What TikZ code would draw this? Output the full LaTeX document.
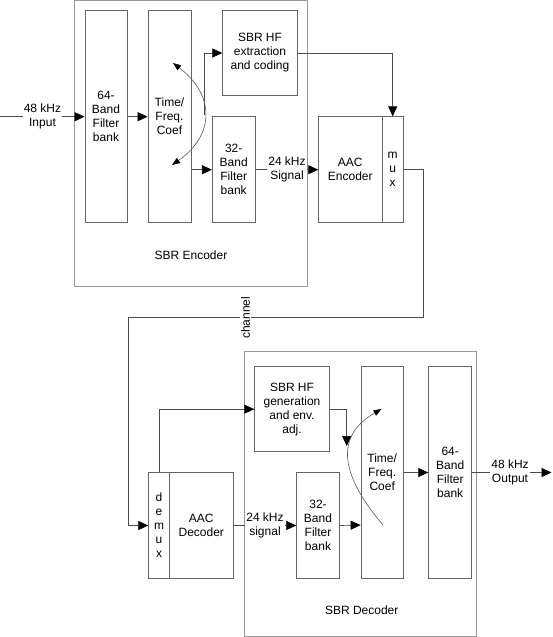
\documentclass[tikz,border=0pt]{standalone}
\usepackage{fontspec}
\setmainfont{Liberation Sans}
\usetikzlibrary{arrows.meta}

\begin{document}
\begin{tikzpicture}[x=1pt,y=-1pt,
    every node/.style={font=\fontsize{12}{14}\selectfont, inner sep=0pt},
    outerbox/.style={draw=black!40, line width=0.9pt},
    blk/.style={draw=black!60, line width=0.8pt, align=center},
    line/.style={draw=black!70, line width=0.7pt},
    arr/.style={line, -{Triangle[length=10pt,width=9pt,color=black]}},
    curvline/.style={draw=black!65, line width=0.6pt},
    lbl/.style={fill=white, align=center, inner sep=1pt}]
    \useasboundingbox (0,0) rectangle (552,637);
    % encoder
    \node[outerbox, minimum width=233.7, minimum height=285.5] (enc) at (190.85,143.25) {};
    \node (enclbl) at (191,255) {SBR Encoder};
    \node[blk, minimum width=42, minimum height=212] (fbe) at (106,116.7) {64-\\Band\\Filter\\bank};
    \node[blk, minimum width=43, minimum height=212] (tfe) at (169.5,116.7) {Time/\\Freq.\\Coef};
    \node[blk, minimum width=74.6, minimum height=84.6] (hfe) at (260,53) {SBR HF\\extraction\\and coding};
    \node[blk, minimum width=42.7, minimum height=106] (fbse) at (233.7,169.7) {32-\\Band\\Filter\\bank};
    \node[blk, minimum width=63.3, minimum height=106] (aace) at (350.3,169.7) {AAC\\Encoder};
    \node[blk, minimum width=21.3, minimum height=106] (mux) at (392.7,169.7) {m\\u\\x};
    % decoder
    \node[outerbox, minimum width=232.7, minimum height=285.5] (dec) at (360.35,493.75) {};
    \node (declbl) at (361.7,610) {SBR Decoder};
    \node[blk, minimum width=74.6, minimum height=85] (hfg) at (292,409.2) {SBR HF\\generation\\and env.\\adj.};
    \node[blk, minimum width=42.3, minimum height=211.6] (tfd) at (382.2,472.5) {Time/\\Freq.\\Coef};
    \node[blk, minimum width=43, minimum height=211.6] (fbd) at (450.2,472.5) {64-\\Band\\Filter\\bank};
    \node[blk, minimum width=20.6, minimum height=105.6] (demux) at (159,525.5) {d\\e\\m\\u\\x};
    \node[blk, minimum width=64, minimum height=105.6] (aacd) at (201.3,525.5) {AAC\\Decoder};
    \node[blk, minimum width=42.6, minimum height=105.6] (fbsd) at (318,525.5) {32-\\Band\\Filter\\bank};
    % free ends
    \coordinate (in) at (0,116.7);
    \coordinate (out) at (551.5,472.5);
    \coordinate (tfa) at (173,63);
    \coordinate (tfb) at (172,165);
    \coordinate (tfbr) at (204.4,114.75);
    \coordinate (tda) at (383,525);
    \coordinate (tdb) at (381.5,409);
    \coordinate (hfgin) at (346.7,446);
    \coordinate (ch1) at (423.3,317.7);
    \coordinate (ch2) at (128.3,317.7);
    % encoder connectors
    \draw[arr] (in) -- (fbe.west);
    \draw[arr] (fbe.east) -- (tfe.west);
    \draw[arr] (tfe.east |- fbse.west) -- (fbse.west);
    \draw[arr] (tfbr) |- (hfe.west);
    \draw[curvline, {Triangle[length=8pt,width=6pt,color=black]}-{Triangle[length=8pt,width=6pt,color=black]}]
        (tfa) .. controls (215,95) and (215,135) .. (tfb);
    \draw[arr] (fbse.east) -- (aace.west);
    \draw[arr] (hfe.east) -| (mux.north);
    \draw[arr] (mux.east) -| (ch1) -- (ch2) |- (demux.west);
    % decoder connectors
    \draw[arr] (demux.north) |- (hfg.west);
    \draw[arr] (hfg.east) -| (hfgin);
    \draw[curvline, -{Triangle[length=8pt,width=6pt,color=black]}]
        (tda) .. controls (332,465) and (342,432) .. (tdb);
    \draw[arr] (aacd.east) -- (fbsd.west);
    \draw[arr] (fbsd.east) -- (tda -| tfd.west);
    \draw[arr] (tfd.east) -- (fbd.west);
    \draw[arr] (fbd.east) -- (out);
    % labels on lines
    \node[lbl] (inlbl) at (42.5,116.7) {48 kHz\\Input};
    \node[lbl] (siglbl) at (287,169.7) {24 kHz\\Signal};
    \node[lbl, rotate=90] (chlbl) at (245.7,317.7) {channel};
    \node[lbl] (sigdlbl) at (265,525) {24 kHz\\signal};
    \node[lbl] (outlbl) at (510,472.5) {48 kHz\\Output};
\end{tikzpicture}
\end{document}
